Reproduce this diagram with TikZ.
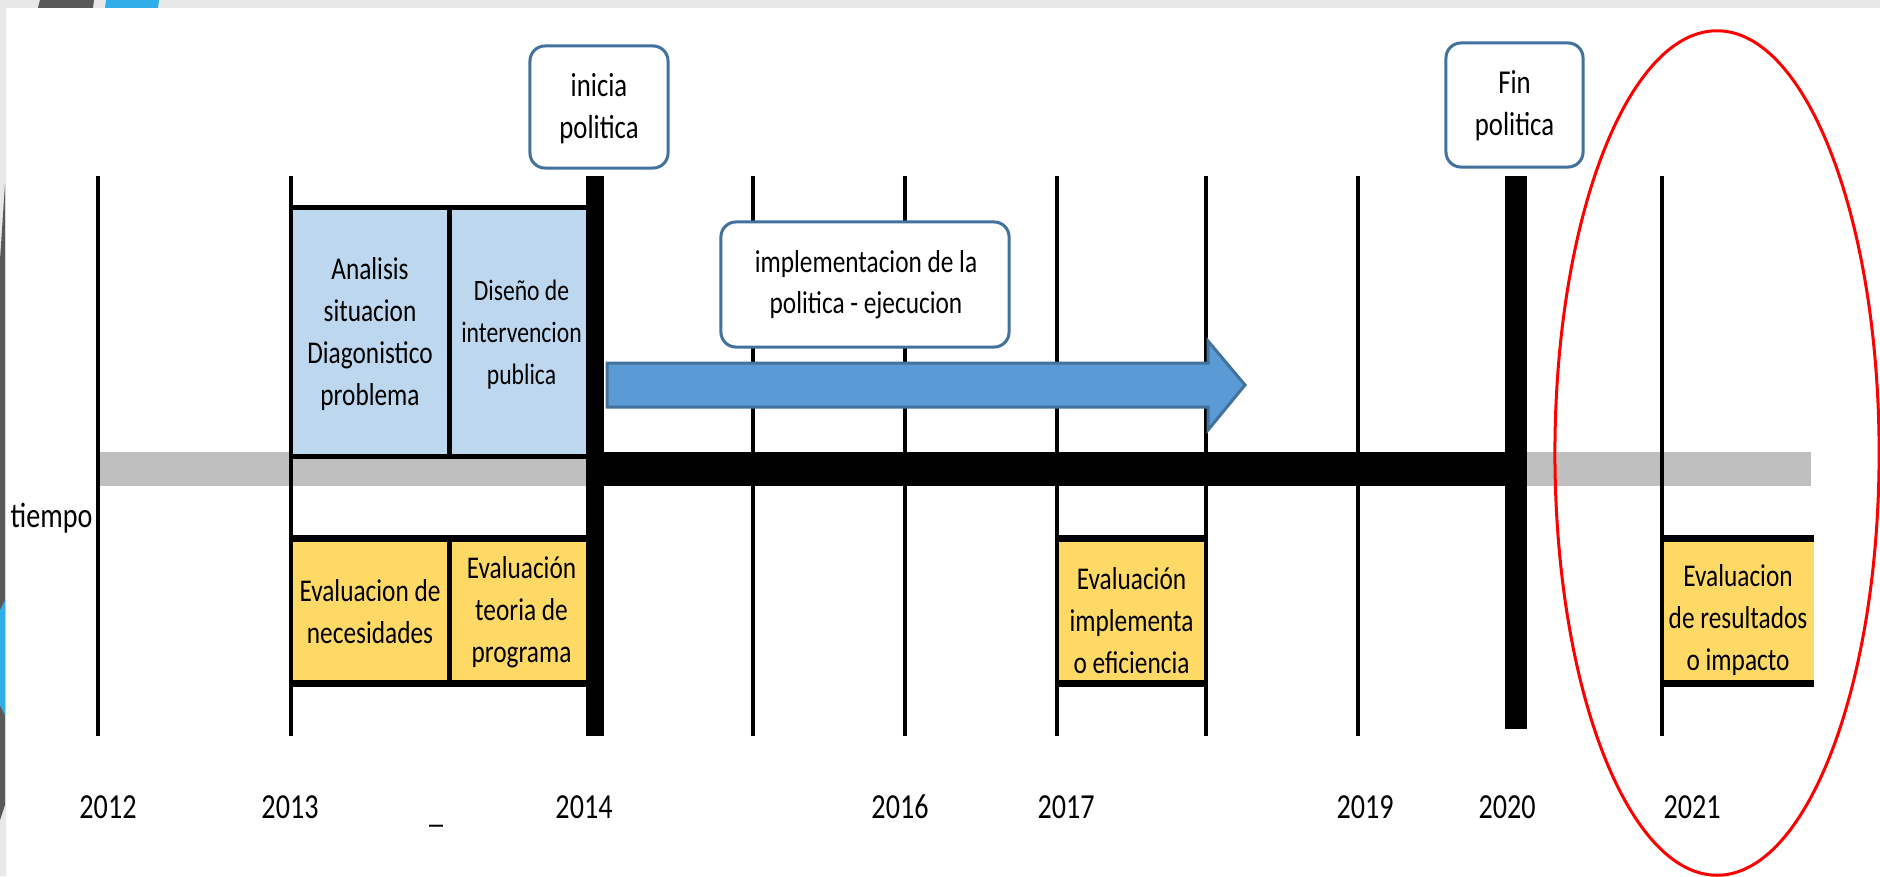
\documentclass[tikz,border=0pt]{standalone}
\usepackage{fontspec}
\setmainfont{Carlito}[FakeStretch=0.8]
\definecolor{boxblue}{HTML}{BDD7EE}
\definecolor{boxyellow}{HTML}{FFD966}
\definecolor{arrowblue}{HTML}{5B9BD5}
\definecolor{edgeblue}{HTML}{41719C}
\definecolor{bargray}{HTML}{BFBFBF}
\definecolor{bandgray}{HTML}{E8E8E8}
\definecolor{decodark}{HTML}{595959}
\definecolor{decoblue}{HTML}{2FAEE9}
\begin{document}
\begin{tikzpicture}[x=0.01cm,y=-0.01cm,
  yearline/.style={line width=0.04cm},
  thickbar/.style={fill=black},
  phasebox/.style={fill=boxblue,inner sep=0pt,outer sep=0pt},
  evalbox/.style={fill=boxyellow,inner sep=0pt,outer sep=0pt},
  phaseedge/.style={line width=0.05cm},
  evaledge/.style={line width=0.07cm},
  boxtext/.style={align=center,font=\fontsize{9}{11.95}\selectfont,inner sep=0pt},
  yeartext/.style={font=\fontsize{10}{12}\selectfont,inner sep=0pt},
  callout/.style={draw=edgeblue,line width=0.03cm,fill=white,rounded corners=0.15cm,align=center,inner sep=0pt,outer sep=0pt},
]
\useasboundingbox (0,0) rectangle (1880,876);
\fill[white] (0,0) rectangle (1880,876);
% slide decorations
\fill[bandgray] (0,0) rectangle (1880,8);
\fill[bandgray] (0,0) rectangle (6,876);
\fill[decodark] (40,0) -- (94,0) -- (93,8) -- (38,8) -- cycle;
\fill[decoblue] (106,0) -- (159,0) -- (158,8) -- (105,8) -- cycle;
\fill[decodark] (0,260) -- (5,184) -- (5,805) -- (0,820) -- cycle;
\fill[decoblue] (0,610) -- (5,600) -- (5,715) -- (0,705) -- cycle;
% time bar
\fill[bargray] (98,452) rectangle (1811,486);
% phase boxes (fills)
\node[phasebox,minimum width=1.58cm,minimum height=2.48cm] (analisis) at (370,332) {};
\node[phasebox,minimum width=1.45cm,minimum height=2.48cm] (diseno) at (521.5,332) {};
% evaluation boxes (fills)
\node[evalbox,minimum width=1.58cm,minimum height=1.455cm] (necesidades) at (370,611) {};
\node[evalbox,minimum width=1.45cm,minimum height=1.455cm] (teoria) at (521.5,611) {};
\node[evalbox,minimum width=1.49cm,minimum height=1.455cm] (implem) at (1131.5,611) {};
\node[evalbox,minimum width=1.52cm,minimum height=1.455cm] (impacto) at (1738,611) {};
% year lines
\foreach \n/\x in {a/98,b/291,c/753,d/905,e/1057,f/1206,g/1358,h/1662}{
  \coordinate (top\n) at (\x,176);
  \coordinate (bot\n) at (\x,736);
  \draw[yearline] (top\n) -- (bot\n);
}
% box borders
\draw[phaseedge] (analisis.north west) -- (diseno.north east);
\draw[phaseedge] (analisis.south west) -- (diseno.south east);
\draw[phaseedge] (analisis.north east) -- (analisis.south east);
\draw[evaledge] (necesidades.north west) -- (teoria.north east);
\draw[evaledge] (necesidades.south west) -- (teoria.south east);
\draw[phaseedge] (necesidades.north east) -- (necesidades.south east);
\draw[evaledge] (implem.north west) -- (implem.north east);
\draw[evaledge] (implem.south west) -- (implem.south east);
\draw[evaledge] (impacto.north west) -- (impacto.north east);
\draw[evaledge] (impacto.south west) -- (impacto.south east);
% box texts
\node[boxtext] (analisisT) at (370,334.5) {Analisis\\situacion\\Diagonistico\\problema};
\node[boxtext,font=\fontsize{8.4}{11.95}\selectfont] (disenoT) at (521.5,335) {Diseño de\\intervencion\\publica};
\node[boxtext] (necesidadesT) at (370,611.5) {Evaluacion de\\necesidades};
\node[boxtext] (teoriaT) at (521.5,612.5) {Evaluación\\teoria de\\programa};
\node[boxtext] (implemT) at (1131.5,621) {Evaluación\\implementa\\o eficiencia};
\node[boxtext] (impactoT) at (1738,620) {Evaluacion\\de resultados\\o impacto};
% thick bars
\fill[thickbar] (586,176) rectangle (604,736);
\coordinate (inicioBar) at (595,176);
\fill[thickbar] (1505,176) rectangle (1527,729);
\coordinate (finBar) at (1516,176);
\fill[black] (595,452) rectangle (1527,486);
% implementation arrow
\draw[edgeblue,line width=0.03cm,fill=arrowblue,line join=miter]
  (607,363) -- (1208,363) -- (1208,341) -- (1245,385) -- (1208,430) -- (1208,407) -- (607,407) -- cycle;
\coordinate (arrowTip) at (1245,385);
% callouts
\node[callout,minimum width=2.88cm,minimum height=1.25cm] (implBox) at (865,284.5) {};
\node[boxtext,font=\fontsize{9}{11.6}\selectfont] (implText) at (866,285) {implementacion de la\\politica - ejecucion};
\node[callout,minimum width=1.38cm,minimum height=1.22cm] (inicia) at (599,107) {};
\node[boxtext,font=\fontsize{9.5}{12}\selectfont] (iniciaT) at (599,109) {inicia\\politica};
\node[callout,minimum width=1.37cm,minimum height=1.24cm] (fin) at (1514.5,105) {};
\node[boxtext,font=\fontsize{9.5}{12}\selectfont] (finT) at (1514.5,106) {Fin\\politica};
% labels
\node[yeartext,anchor=base west] (tiempo) at (10,527) {tiempo};
\foreach \n/\x/\t in {y12/108/2012,y13/290/2013,y14/584/2014,y16/900/2016,y17/1066/2017,y19/1365/2019,y20/1507/2020,y21/1692/2021}{
  \node[yeartext,anchor=base] (\n) at (\x,818) {\t};
}
\node[yeartext,anchor=base] (dash) at (436,822) {\_};
% highlight ellipse
\draw[red,line width=0.03cm] (1717,453) ellipse [x radius=1.62cm, y radius=4.22cm];
\end{tikzpicture}
\end{document}
